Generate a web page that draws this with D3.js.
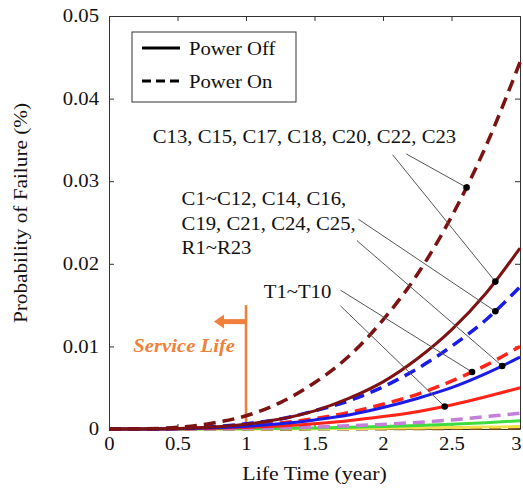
<!DOCTYPE html>
<html>
<head>
<meta charset="utf-8">
<script src="https://cdn.jsdelivr.net/npm/d3@7"></script>
<style>
  body { margin: 0; background: #fff; }
  svg text { font-family: "Liberation Serif", "Times New Roman", serif; fill: #111; }
</style>
</head>
<body>
<svg id="chart" width="523" height="503"></svg>
<script>
// life time (year) sample points
const years = [0, 0.25, 0.5, 0.75, 1, 1.25, 1.5, 1.75, 2, 2.25, 2.5, 2.75, 3];

// C13, C15, C17, C18, C20, C22, C23
const capOffA = [0, 0.00001, 0.00006, 0.00023, 0.00058, 0.0012, 0.0022, 0.0037, 0.0057, 0.0085, 0.0120, 0.0164, 0.0219];
const capOnA  = [0, 0.00003, 0.0002, 0.0007, 0.0016, 0.0032, 0.0056, 0.0088, 0.0132, 0.0187, 0.0257, 0.0342, 0.0444];
// C1~C12, C14, C16, C19, C21, C24, C25, R1~R23
const capOffB = [0, 0.000005, 0.00004, 0.00014, 0.00032, 0.00063, 0.0011, 0.0017, 0.0026, 0.0037, 0.0050, 0.0067, 0.0087];
const capOnB  = [0, 0.00001, 0.00008, 0.00027, 0.00064, 0.0012, 0.0022, 0.0034, 0.0051, 0.0073, 0.0100, 0.0132, 0.0172];
// T1~T10
const trOff = [0, 0.000003, 0.00002, 0.00008, 0.00019, 0.00036, 0.00063, 0.0010, 0.0015, 0.0021, 0.0029, 0.0039, 0.0050];
const trOn  = [0, 0.000006, 0.00005, 0.00016, 0.00037, 0.00072, 0.00125, 0.0020, 0.0030, 0.0042, 0.0058, 0.0077, 0.0100];
// remaining parts, close to zero
const violetOn  = [0, 0, 0.00001, 0.00003, 0.00007, 0.00014, 0.00024, 0.00038, 0.00056, 0.0008, 0.0011, 0.0015, 0.0019];
const greenOff  = [0, 0, 0, 0.00002, 0.00004, 0.00007, 0.00013, 0.0002, 0.0003, 0.00042, 0.00058, 0.00077, 0.0010];
const yellowOff = [0, 0, 0, 0.00001, 0.00001, 0.00002, 0.00004, 0.00006, 0.00009, 0.00013, 0.00017, 0.00023, 0.0003];
const brownOn   = [0, 0, 0, 0, 0.00001, 0.00001, 0.00002, 0.00003, 0.00004, 0.00006, 0.00008, 0.0001, 0.00013];

const xTicks = [0, 0.5, 1, 1.5, 2, 2.5, 3];
const yTicks = [0, 0.01, 0.02, 0.03, 0.04, 0.05];
const legendLabels = ['Power Off', 'Power On'];
const serviceLife = 1;

// annotation texts and where their leaders point (series, year)
const labelA = ['C13, C15, C17, C18, C20, C22, C23'];
const labelB = ['C1~C12, C14, C16,', 'C19, C21, C24, C25,', 'R1~R23'];
const labelC = ['T1~T10'];
const pointers = [
    { series: 'capOnA',  at: 2.61, from: [2.17, 0.0333] },
    { series: 'capOffA', at: 2.82, from: [2.07, 0.0332] },
    { series: 'capOnB',  at: 2.82, from: [1.82, 0.0254] },
    { series: 'capOffB', at: 2.87, from: [1.81, 0.0228] },
    { series: 'trOn',    at: 2.65, from: [1.69, 0.0168] },
    { series: 'trOff',   at: 2.45, from: [1.69, 0.0149] }
];

var series = [
    { id: 'brownOn',   values: brownOn,   color: '#7a4a1c', dashed: true },
    { id: 'yellowOff', values: yellowOff, color: '#f2df4a', dashed: false },
    { id: 'greenOff',  values: greenOff,  color: '#3fdc3f', dashed: false },
    { id: 'violetOn',  values: violetOn,  color: '#c47fd9', dashed: true },
    { id: 'trOff',     values: trOff,     color: '#ff2418', dashed: false },
    { id: 'trOn',      values: trOn,      color: '#ff2418', dashed: true },
    { id: 'capOffB',   values: capOffB,   color: '#1b1be6', dashed: false },
    { id: 'capOnB',    values: capOnB,    color: '#1b1be6', dashed: true },
    { id: 'capOffA',   values: capOffA,   color: '#7c1212', dashed: false },
    { id: 'capOnA',    values: capOnA,    color: '#7c1212', dashed: true }
];

var margin = { top: 16, right: 3, bottom: 74, left: 109 };
var svg = d3.select('#chart');
var width = +svg.attr('width') - margin.left - margin.right;
var height = +svg.attr('height') - margin.top - margin.bottom;

var g = svg.append('g')
    .attr('transform', 'translate(' + margin.left + ',' + margin.top + ')');

var xScale = d3.scaleLinear().domain([0, 3]).range([0, width]);
var yScale = d3.scaleLinear().domain([0, 0.05]).range([height, 0]);

// the original font runs wide, stretch text horizontally
function stretch(sel, origin) {
    return sel.style('transform-box', 'fill-box')
        .style('transform-origin', origin + ' 50%')
        .style('transform', 'scaleX(1.15)');
}

// axes, ticks pointing inward
var xAxis = g.append('g')
    .attr('transform', 'translate(0,' + height + ')')
    .call(d3.axisBottom(xScale).tickValues(xTicks).tickSize(-5).tickSizeOuter(0).tickPadding(8)
        .tickFormat(function(d) { return d3.format('')(d); }));
var yAxis = g.append('g')
    .call(d3.axisLeft(yScale).tickValues(yTicks).tickSize(-5).tickSizeOuter(0).tickPadding(10)
        .tickFormat(function(d) { return d === 0 ? '0' : d3.format('.2f')(d); }));
g.append('g')
    .call(d3.axisTop(xScale).tickValues(xTicks).tickSize(-5).tickSizeOuter(0).tickFormat(''));
g.append('g')
    .attr('transform', 'translate(' + width + ',0)')
    .call(d3.axisRight(yScale).tickValues(yTicks).tickSize(-5).tickSizeOuter(0).tickFormat(''));

g.selectAll('.domain, .tick line').attr('stroke', '#333').attr('stroke-width', 1);
xAxis.selectAll('text').style('font-size', '18px').call(stretch, '50%');
yAxis.selectAll('text').style('font-size', '18px').call(stretch, '100%');
// last x label sits against the window edge
xAxis.selectAll('.tick').filter(function(d) { return d === 3; })
    .select('text').attr('x', -4);

// axis titles
g.append('text')
    .attr('x', xScale(1.5))
    .attr('y', height + 51)
    .attr('text-anchor', 'middle')
    .style('font-size', '19px')
    .text('Life Time (year)')
    .call(stretch, '50%');

svg.append('g')
    .attr('transform', 'translate(27,213) rotate(-90)')
    .append('text')
    .attr('text-anchor', 'middle')
    .style('font-size', '18.5px')
    .text('Probability of Failure (%)')
    .call(stretch, '50%');

// service life marker
var orange = '#ef7f3a';
g.append('line')
    .attr('x1', xScale(serviceLife)).attr('x2', xScale(serviceLife))
    .attr('y1', yScale(0.015)).attr('y2', yScale(0))
    .attr('stroke', orange).attr('stroke-width', 2.5);
g.append('line')
    .attr('x1', xScale(serviceLife)).attr('x2', xScale(0.83))
    .attr('y1', yScale(0.013)).attr('y2', yScale(0.013))
    .attr('stroke', orange).attr('stroke-width', 5);
g.append('path')
    .attr('d', d3.line()([
        [xScale(0.766), yScale(0.013)],
        [xScale(0.84), yScale(0.013) - 7],
        [xScale(0.84), yScale(0.013) + 7]
    ]) + 'Z')
    .attr('fill', orange);
g.append('text')
    .attr('x', xScale(0.92))
    .attr('y', yScale(0.0093))
    .attr('text-anchor', 'end')
    .style('font-size', '18px')
    .style('font-weight', 'bold')
    .style('font-style', 'italic')
    .style('fill', orange)
    .text('Service Life')
    .call(stretch, '100%');

// curves
var line = d3.line()
    .x(function(d) { return xScale(d[0]); })
    .y(function(d) { return yScale(d[1]); })
    .curve(d3.curveMonotoneX);

var paths = {};
series.forEach(function(s) {
    var pts = years.map(function(t, i) { return [t, s.values[i]]; });
    paths[s.id] = g.append('path')
        .datum(pts)
        .attr('fill', 'none')
        .attr('stroke', s.color)
        .attr('stroke-width', s.dashed ? 3.5 : 3)
        .attr('stroke-dasharray', s.dashed ? '12,7' : null)
        .attr('d', line)
        .node();
});

// find the point of a rendered curve at a given x pixel
function pointAtX(node, px) {
    var lo = 0, hi = node.getTotalLength();
    for (var i = 0; i < 40; i++) {
        var mid = (lo + hi) / 2;
        if (node.getPointAtLength(mid).x < px) lo = mid; else hi = mid;
    }
    return node.getPointAtLength(lo);
}

// annotation texts
function addLabel(lines, x, y, step) {
    lines.forEach(function(txt, i) {
        g.append('text')
            .attr('x', xScale(x))
            .attr('y', yScale(y) + i * step)
            .style('font-size', '18px')
            .text(txt)
            .call(stretch, '0%');
    });
}
addLabel(labelA, 0.32, 0.0346, 0);
addLabel(labelB, 0.53, 0.0271, 24.5);
addLabel(labelC, 1.13, 0.0159, 0);

// leader lines and dots
pointers.forEach(function(p) {
    var end = pointAtX(paths[p.series], xScale(p.at));
    g.append('line')
        .attr('x1', xScale(p.from[0])).attr('y1', yScale(p.from[1]))
        .attr('x2', end.x).attr('y2', end.y)
        .attr('stroke', '#555').attr('stroke-width', 1);
    g.append('circle')
        .attr('cx', end.x).attr('cy', end.y)
        .attr('r', 3.3)
        .attr('fill', '#000');
});

// legend
var legend = svg.append('g').attr('transform', 'translate(132,32)');
legend.append('rect')
    .attr('width', 164).attr('height', 70)
    .attr('fill', '#fff').attr('stroke', '#333').attr('stroke-width', 1);
legendLabels.forEach(function(label, i) {
    var y = 16 + i * 33;
    legend.append('line')
        .attr('x1', 10).attr('x2', 48)
        .attr('y1', y).attr('y2', y)
        .attr('stroke', '#000').attr('stroke-width', 3)
        .attr('stroke-dasharray', i === 1 ? '9,5' : null);
    legend.append('text')
        .attr('x', 57).attr('y', y + 7)
        .style('font-size', '18px')
        .text(label)
        .call(stretch, '0%');
});
</script>
</body>
</html>
